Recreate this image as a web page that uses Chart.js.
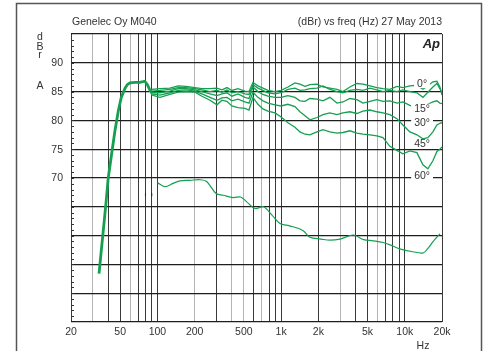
<!DOCTYPE html>
<html>
<head>
<meta charset="utf-8">
<script src="https://cdn.jsdelivr.net/npm/chart.js@4"></script>
<style>
  html, body { margin: 0; padding: 0; background: #fff; }
  canvas { display: block; }
</style>
</head>
<body>
<canvas id="ctx" width="486" height="351"></canvas>
<script>
// shared low end (all angles overlap here)
const freqRise = [33.7, 35, 36.8, 38.5, 40, 42.5, 45.4, 48.4, 51, 54.7, 57, 60, 66, 72, 79, 83, 88];
const dbRise   = [53.4, 57.0, 61.7, 66.0, 70.0, 74.0, 78.3, 81.8, 84.0, 85.6, 86.2, 86.5, 86.6, 86.6, 86.8, 86.2, 85.0];

// off-axis curves, 90 Hz .. 20 kHz
const angleNames = ['0°', '15°', '30°', '45°', '60°'];
const freqAngle = [90, 105, 126, 147, 170, 201, 229, 266, 303, 332, 365, 400, 448, 510, 550, 592, 650, 713, 783, 892,
  1000, 1136, 1294, 1420, 1560, 1710, 1950, 2180, 2480, 2830, 3160, 3600, 4100, 4590, 5230, 5950, 6660, 7580, 8640, 9660,
  11000, 12540, 14020, 15380, 16880, 18190, 19230, 20000];
const db0  = [85.4, 85.5, 85.6, 86.0, 85.9, 85.7, 85.5, 85.5, 85.6, 85.3, 85.7, 85.2, 85.5, 85.1, 85.0, 86.6, 86.0, 85.6, 85.2, 85.0,
  85.2, 85.8, 86.5, 86.3, 85.9, 86.2, 86.3, 85.8, 85.6, 85.4, 85.0, 85.8, 86.4, 86.3, 86.0, 85.7, 85.5, 85.4, 85.9, 85.7,
  86.0, 86.1, 85.4, 86.0, 86.7, 86.8, 85.8, 84.4];
const db15 = [85.1, 85.2, 85.4, 85.7, 85.7, 85.5, 85.3, 85.0, 85.2, 84.9, 85.3, 84.8, 85.0, 84.6, 84.5, 86.2, 85.6, 85.2, 84.8, 84.6,
  84.8, 85.4, 85.6, 85.2, 85.3, 85.5, 85.6, 86.0, 85.4, 85.0, 84.8, 85.2, 85.4, 85.2, 85.6, 85.3, 85.0, 85.2, 85.0, 85.3,
  85.0, 84.8, 84.0, 84.9, 85.8, 86.4, 85.5, 84.9];
const db30 = [84.8, 84.8, 85.1, 85.5, 85.5, 85.3, 85.0, 84.6, 84.3, 84.6, 84.8, 84.2, 84.6, 84.0, 83.8, 85.8, 85.0, 84.5, 84.2, 84.0,
  84.0, 84.3, 84.0, 83.4, 83.3, 83.8, 83.7, 83.4, 84.0, 83.0, 83.2, 83.8, 83.6, 83.0, 83.3, 83.6, 83.3, 83.4, 83.0, 83.2,
  82.6, 82.2, 82.4, 82.8, 83.2, 83.4, 83.0, 82.9];
const db45 = [84.6, 84.4, 84.8, 85.2, 85.3, 85.1, 84.6, 84.0, 83.5, 83.9, 84.0, 83.4, 83.7, 83.2, 83.0, 84.9, 84.0, 83.4, 83.0, 82.7,
  82.5, 82.8, 82.4, 81.5, 80.8, 80.1, 80.5, 81.0, 81.3, 81.0, 81.3, 81.5, 81.2, 81.6, 81.8, 81.5, 81.3, 81.0, 80.3, 79.2,
  78.0, 77.5, 76.8, 77.0, 78.0, 79.2, 79.5, 79.6];
const db60 = [84.4, 84.0, 84.5, 84.9, 85.0, 84.9, 84.2, 83.5, 82.7, 83.5, 83.3, 82.5, 82.2, 82.1, 81.8, 84.0, 82.8, 82.0, 81.6, 81.3,
  80.6, 79.6, 78.8, 78.0, 77.6, 77.5, 78.0, 78.4, 78.0, 77.8, 77.9, 78.2, 77.8, 77.6, 77.5, 77.3, 77.0, 75.5, 74.8, 74.2,
  74.7, 74.4, 72.3, 71.6, 73.0, 74.6, 75.0, 75.4];
const angleDb = [db0, db15, db30, db45, db60];

// lower single curve
const freqLow = [100, 115, 135, 152, 183, 222, 250, 298, 340, 410, 470, 525, 615, 720, 840, 980, 1170, 1500, 1710, 2100,
  2480, 3000, 3850, 4650, 5560, 6680, 8000, 9080, 11600, 14100, 15400, 17000, 19230];
const dbLow = [69.2, 68.5, 69.1, 69.5, 69.6, 69.7, 69.4, 67.3, 67.0, 66.6, 66.7, 65.9, 64.7, 65.0, 63.6, 62.1, 61.7, 60.9, 59.7, 59.4,
  59.2, 59.4, 60.1, 59.3, 59.1, 58.8, 58.2, 57.7, 57.2, 57.0, 57.8, 59.0, 60.3];

// little dashes left of the lower curve
const freqMarks = [80, 90];
const dbMarks = [67.1, 67.1];

// angle labels near the right edge
const labelFreq = 13800;
const labelDb = [86.4, 82.1, 79.6, 75.9, 70.5];

// axes
const xTicks = [20, 30, 40, 50, 60, 70, 80, 90, 100, 200, 300, 400, 500, 600, 700, 800, 900,
  1000, 2000, 3000, 4000, 5000, 6000, 7000, 8000, 9000, 10000, 20000];
const xTickText = { 20: '20', 50: '50', 100: '100', 200: '200', 500: '500', 1000: '1k', 2000: '2k', 5000: '5k', 10000: '10k', 20000: '20k' };
const xLightLines = [30, 60, 200, 400, 500, 700, 3000, 6000];
const yTicks = [45, 50, 55, 60, 65, 70, 75, 80, 85, 90, 95];
const yTickText = [70, 75, 80, 85, 90];

const GREEN = '#14a050';
const FONT = "'Liberation Sans', Arial, sans-serif";

const pts = (xs, ys) => xs.map((x, i) => ({ x: x, y: ys[i] }));

const datasets = [];
datasets.push({ data: pts(freqRise, dbRise), showLine: true, borderColor: GREEN, borderWidth: 2.8, pointRadius: 0 });
angleDb.forEach((arr, i) => {
  datasets.push({
    label: angleNames[i],
    data: [{ x: freqRise[freqRise.length - 1], y: dbRise[dbRise.length - 1] }].concat(pts(freqAngle, arr)),
    showLine: true, borderColor: GREEN, borderWidth: 1.3, pointRadius: 0, tension: 0
  });
});
datasets.push({ data: pts(freqLow, dbLow), showLine: true, borderColor: GREEN, borderWidth: 1.2, pointRadius: 0,
  tension: 0.35 });
datasets.push({ data: pts(freqMarks, dbMarks), showLine: false, pointStyle: 'line', rotation: 90, pointRadius: 1.6,
  borderColor: '#222', borderWidth: 1 });

// frame, titles, minor ticks and angle labels
const decorations = {
  id: 'decorations',
  afterDraw(chart) {
    const c = chart.ctx, a = chart.chartArea, xs = chart.scales.x, ys = chart.scales.y;
    c.save();
    c.strokeStyle = '#555';
    c.lineWidth = 1.5;
    c.strokeRect(16.5, 3.5, 465, 400);

    c.strokeStyle = '#333';
    c.lineWidth = 1;
    for (let v = 46; v < 95; v++) {
      const yy = Math.round(ys.getPixelForValue(v)) + 0.5;
      c.beginPath(); c.moveTo(a.left, yy); c.lineTo(a.left + 3, yy); c.stroke();
    }

    c.fillStyle = '#333';
    c.font = '10.5px ' + FONT;
    c.textBaseline = 'alphabetic';
    c.textAlign = 'left';
    c.fillText('Genelec Oy M040', 72, 25);
    c.textAlign = 'right';
    c.fillText('(dBr) vs freq (Hz) 27 May 2013', 442, 25);
    c.textAlign = 'center';
    c.fillText('d', 40, 40);
    c.fillText('B', 40, 50);
    c.fillText('r', 40, 58);
    c.fillText('A', 40, 88.5);
    c.fillText('Hz', 423, 349);

    c.font = 'italic bold 13px ' + FONT;
    c.textAlign = 'right';
    c.fillStyle = '#222';
    c.fillText('Ap', 440, 48);

    c.font = '10.5px ' + FONT;
    c.textAlign = 'center';
    c.textBaseline = 'middle';
    angleNames.forEach((t, i) => {
      const px = xs.getPixelForValue(labelFreq), py = ys.getPixelForValue(labelDb[i]);
      const w = c.measureText(t).width + 6;
      c.fillStyle = '#fff';
      c.fillRect(px - w / 2, py - 4.5, w, 9);
      c.fillStyle = '#333';
      c.fillText(t, px, py + 0.5);
    });
    c.restore();
  }
};

new Chart(document.getElementById('ctx'), {
  type: 'scatter',
  data: { datasets: datasets },
  options: {
    responsive: false,
    animation: false,
    devicePixelRatio: 1,
    layout: { padding: { top: 34, right: 44, left: 0, bottom: 0 } },
    plugins: { legend: { display: false }, tooltip: { enabled: false } },
    scales: {
      x: {
        type: 'logarithmic', min: 20, max: 20000,
        afterBuildTicks: s => { s.ticks = xTicks.map(v => ({ value: v })); },
        afterFit: s => { s.height = 29; },
        border: { display: false },
        grid: {
          drawTicks: false, lineWidth: 1,
          color: ctx => (ctx.tick && xLightLines.includes(ctx.tick.value)) ? '#b4b4b4' : '#3a3a3a'
        },
        ticks: {
          autoSkip: false, maxRotation: 0, padding: 4, color: '#333',
          font: { family: FONT, size: 10.5 },
          callback: v => xTickText[v] || ''
        }
      },
      y: {
        min: 45, max: 95,
        afterBuildTicks: s => { s.ticks = yTicks.map(v => ({ value: v })); },
        afterFit: s => { s.width = 71; },
        border: { display: false },
        grid: { drawTicks: false, lineWidth: 1.2, color: '#1e1e1e' },
        ticks: {
          padding: 8, labelOffset: 0.5, color: '#333',
          font: { family: FONT, size: 10.5 },
          callback: v => yTickText.includes(v) ? String(v) : ''
        }
      }
    }
  },
  plugins: [decorations]
});
</script>
</body>
</html>
